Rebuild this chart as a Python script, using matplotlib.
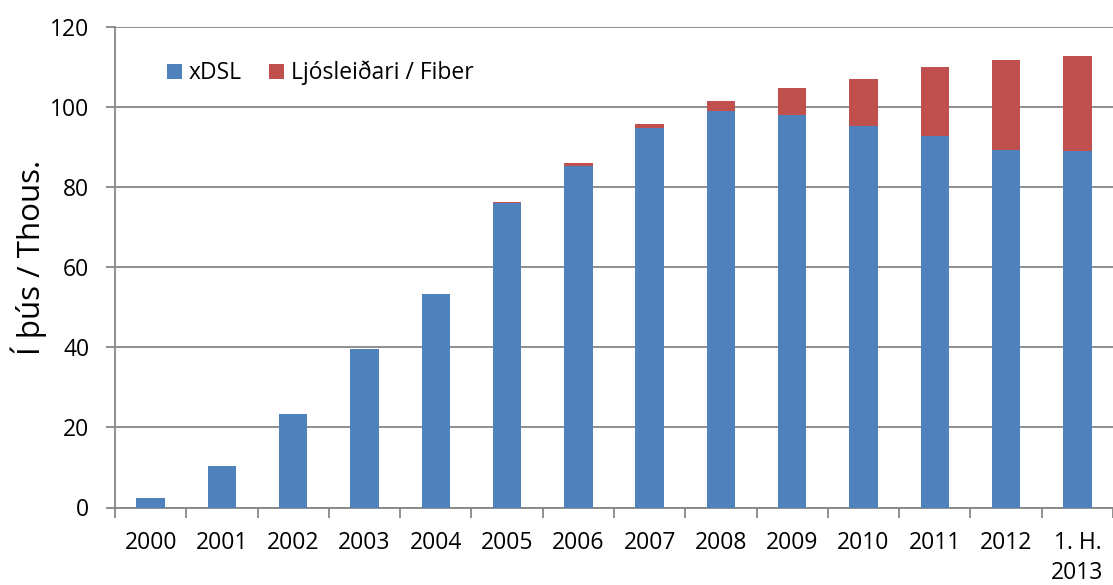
import matplotlib
matplotlib.use("Agg")
import matplotlib.pyplot as plt
import numpy as np

categories = ["2000", "2001", "2002", "2003", "2004", "2005", "2006", "2007",
              "2008", "2009", "2010", "2011", "2012", "1. H.\n2013"]
xdsl = [2.3, 10.4, 23.4, 39.5, 53.2, 76.1, 85.3, 94.7, 98.9, 97.9, 95.4, 92.8, 89.2, 89.0]
fiber = [0.0, 0.0, 0.0, 0.0, 0.2, 0.1, 0.7, 1.2, 2.6, 6.9, 11.6, 17.3, 22.5, 23.8]
yticks = [0, 20, 40, 60, 80, 100, 120]

plt.rcParams['font.family'] = ['Open Sans', 'DejaVu Sans']

fig = plt.figure(figsize=(11.13, 5.85), dpi=100)
ax = fig.add_axes([115/1113, 1 - 507.5/585, 1 - 115/1113, 480.5/585])

x = np.arange(len(categories))
w = 0.4
ax.bar(x, xdsl, w, color='#4F81BD', label='xDSL', zorder=3)
ax.bar(x, fiber, w, bottom=xdsl, color='#C0504D', label='Ljósleiðari / Fiber', zorder=3)

ax.set_xlim(-0.5, len(categories) - 0.5)
ax.set_ylim(0, 120)
ax.set_yticks(yticks)
ax.yaxis.grid(True, color='#868686', linewidth=1.3, zorder=0)
ax.set_axisbelow(True)

ax.set_xticks(x)
ax.set_xticklabels(categories, fontsize=16.5, linespacing=1.3)
ax.tick_params(axis='x', length=0, pad=17)
ax.set_xticks(np.arange(-0.5, len(categories), 1), minor=True)
ax.tick_params(axis='x', which='minor', length=7, color='#868686', width=1.3)
ax.tick_params(axis='y', labelsize=16.5, length=6.5, color='#868686', width=1.3, pad=12)

for s in ['top', 'right']:
    ax.spines[s].set_visible(False)
for s in ['left', 'bottom']:
    ax.spines[s].set_color('#868686')
    ax.spines[s].set_linewidth(1.3)

ax.set_ylabel('Í þús / Thous.', fontsize=22.5)
ax.yaxis.set_label_coords(-0.068, 0.52)

ax.legend(loc='center left', bbox_to_anchor=(0.052, 0.904), ncol=2, frameon=False,
          fontsize=16.5, handlelength=0.65, handleheight=0.65, handletextpad=0.3,
          columnspacing=1.2, borderpad=0, borderaxespad=0)

fig.savefig('out.png', dpi=100)
